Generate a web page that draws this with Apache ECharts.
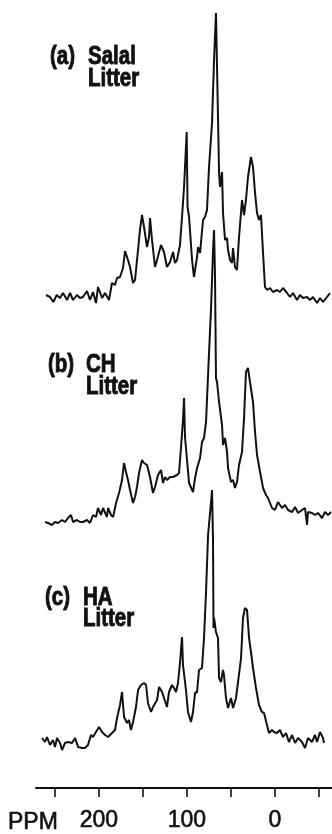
<!DOCTYPE html>
<html>
<head>
<meta charset="utf-8">
<script src="https://cdn.jsdelivr.net/npm/echarts@6/dist/echarts.min.js"></script>
<style>
  html, body { margin: 0; padding: 0; background: #fff; }
  #chart { width: 332px; height: 834px; }
</style>
</head>
<body>
<div id="chart"></div>
<script>
// 13C CPMAS NMR spectra of three litters, chemical shift in ppm (inverted axis)

// (a) Salal litter
const ppmA = [260.1,255.6,251.8,247.9,244.2,240.8,236.2,232.8,229.4,224.9,221.5,218.1,213.5,210.1,206.7,203.3,201.0,196.4,193.0,188.5,185.1,181.7,179.4,176.0,172.6,170.3,166.9,164.6,161.2,158.9,156.7,153.3,151.0,148.7,145.3,143.0,141.9,139.6,136.2,133.9,129.4,126.0,122.6,119.1,115.7,113.5,111.2,107.8,105.5,103.2,100.2,99.2,97.5,94.1,91.9,88.4,87.3,85.0,81.6,79.4,77.1,74.8,71.4,69.1,66.9,65.7,64.6,63.4,62.3,60.0,58.9,56.6,54.3,53.2,50.9,48.7,47.5,45.3,43.0,40.7,37.3,35.0,32.8,30.5,27.1,24.8,22.5,20.2,18.0,15.7,13.4,11.2,8.9,5.5,2.1,-2.5,-5.9,-9.3,-13.9,-17.3,-20.7,-25.2,-28.6,-32.1,-36.6,-40.0,-43.4,-48.0,-51.4,-54.8,-59.3,-62.7];
const intA = [3,1,-4,3,0,5,-2,5,-2,3,0,1,7,-2,6,-5,11,0,5,-2,15,13,20,21,30,47,38,31,15,18,16,68,83,71,51,61,80,58,31,38,53,46,31,36,46,35,38,53,81,111,166,91,81,38,21,41,51,45,78,81,88,131,175,238,285,285,181,125,111,126,85,58,60,48,38,35,50,31,28,61,98,83,98,121,141,131,105,85,78,83,45,11,8,10,6,8,6,10,5,1,5,-2,3,0,1,-2,1,-5,0,-4,1,5];

// (b) CH litter
const ppmB = [261.2,257.8,253.3,249.9,246.5,241.9,238.5,235.1,231.7,229.4,224.9,221.5,218.1,213.5,210.1,206.7,203.3,201.0,197.6,195.3,190.8,189.6,186.2,183.9,180.5,177.1,173.7,171.4,169.2,166.9,164.6,161.2,158.9,156.7,154.4,151.0,148.7,145.3,141.9,138.5,136.2,132.8,129.4,127.1,124.8,122.6,119.1,115.7,111.2,108.9,106.6,104.4,103.2,102.1,99.8,97.5,96.4,93.0,90.7,88.4,85.0,82.8,80.5,78.2,75.9,72.5,70.3,69.1,68.0,66.9,65.7,63.4,60.0,58.9,56.6,54.3,53.2,49.8,47.5,45.3,43.0,40.7,37.3,35.0,32.8,30.5,28.2,24.8,22.5,20.2,16.8,13.4,10.0,7.7,3.2,-0.2,-3.6,-8.2,-11.6,-15.0,-19.6,-23.0,-26.4,-30.9,-34.3,-36.6,-37.7,-42.3,-45.7,-49.1,-53.7,-57.1,-60.5,-63.9];
const intB = [-2,-3,-5,-2,-3,0,-2,2,5,-2,0,-2,-2,0,-3,5,3,12,5,12,3,12,5,3,17,27,40,57,48,40,30,17,23,33,47,60,57,55,43,27,33,45,50,37,43,40,43,43,45,47,73,100,122,83,60,37,35,28,42,52,62,78,82,98,145,212,268,290,245,142,138,118,95,75,82,68,52,38,40,32,38,55,68,102,148,152,138,118,88,65,48,32,25,22,12,10,18,12,15,10,8,13,7,10,12,-5,8,7,5,7,2,8,5,8];

// (c) HA litter
const ppmC = [264.7,261.2,259.0,255.6,252.2,249.9,247.6,244.2,241.9,238.5,235.1,230.5,227.1,223.7,219.2,215.8,212.4,209.0,206.7,203.3,199.9,196.4,193.0,189.6,185.1,181.7,179.4,176.0,173.7,171.4,168.0,165.8,163.5,161.2,157.8,155.5,152.1,148.7,146.4,144.2,140.7,138.5,133.9,131.6,128.2,126.0,122.6,120.3,116.9,114.6,112.3,110.1,107.8,105.5,104.4,101.0,98.7,95.3,93.0,90.7,88.4,86.2,82.8,80.5,78.2,75.9,72.5,71.4,70.3,69.7,69.1,66.9,64.6,63.4,61.2,58.9,57.8,55.5,53.2,49.8,47.5,44.1,41.8,38.4,36.2,33.9,31.6,29.3,27.1,24.8,21.4,18.0,14.6,12.3,8.9,6.6,3.2,0.9,-2.5,-5.9,-9.3,-12.7,-16.1,-19.6,-23.0,-26.4,-30.9,-34.3,-37.7,-42.3,-45.7,-48.0,-51.4,-54.8,-55.9];
const intC = [2,-2,3,-5,0,-7,2,-3,-10,-3,-2,-3,2,-7,-8,-8,-5,5,3,8,13,8,5,3,7,10,22,35,48,23,17,20,10,18,33,50,55,57,55,37,28,33,40,53,48,50,33,48,55,52,48,57,77,103,75,50,28,18,28,47,48,70,72,102,148,205,238,250,202,112,122,108,102,62,58,70,65,42,32,42,32,42,58,82,122,132,130,102,88,72,52,35,28,27,15,7,10,8,7,10,3,7,-2,5,-3,2,-2,-8,2,-2,5,-2,8,2,-3];

// Axis ticks and labels (ppm)
const ppmTicks = [250, 200, 150, 100, 50, 0, -50];
const ppmTickLabels = [200, 100, 0];
const axisTitle = 'PPM';

// Panel captions
const panelTags = ['(a)', '(b)', '(c)'];
const panelNames = ['Salal', 'CH', 'HA'];
const panelSub = 'Litter';

const zip = (xs, ys) => xs.map((x, i) => [x, ys[i]]);

const X_MIN = -65, X_MAX = 271.5;
const ink = '#111';

function hiddenX(gi) {
  return { type: 'value', gridIndex: gi, min: X_MIN, max: X_MAX, inverse: true, show: false };
}
function hiddenY(gi, min, max) {
  return { type: 'value', gridIndex: gi, min: min, max: max, show: false };
}

const chart = echarts.init(document.getElementById('chart'), null, { renderer: 'canvas' });

const captionFont = 'bold 25px "Liberation Sans", Arial, sans-serif';
function caption(x, y, text) {
  return {
    type: 'text', x: x, y: y, scaleX: 0.82, scaleY: 1,
    style: {
      text: text, font: captionFont, fill: ink, stroke: ink, lineWidth: 0.9,
      align: 'left', verticalAlign: 'middle'
    }
  };
}

const capPos = [
  { tx: 50, nx: 88, y1: 57, y2: 79 },
  { tx: 48, nx: 86, y1: 365, y2: 387 },
  { tx: 45, nx: 83, y1: 598, y2: 619 }
];
const graphics = [];
capPos.forEach((p, i) => {
  graphics.push(caption(p.tx, p.y1, panelTags[i]));
  graphics.push(caption(p.nx, p.y1, panelNames[i]));
  graphics.push(caption(p.nx, p.y2, panelSub));
});
graphics.push({
  type: 'text', x: 8, y: 823,
  style: {
    text: axisTitle, font: '23px "Liberation Sans", Arial, sans-serif',
    fill: ink, stroke: ink, lineWidth: 0.6, align: 'left', verticalAlign: 'middle'
  }
});

const lineStyle = { color: ink, width: 2 };

chart.setOption({
  animation: false,
  backgroundColor: '#fff',
  grid: [
    { left: 36, right: 0, top: 8, height: 310 },
    { left: 36, right: 0, top: 220, height: 320 },
    { left: 36, right: 0, top: 480, height: 280 }
  ],
  xAxis: [
    hiddenX(0),
    hiddenX(1),
    {
      type: 'value', gridIndex: 2, min: X_MIN, max: X_MAX, inverse: true,
      position: 'bottom', offset: 28,
      axisLine: { show: true, onZero: false, lineStyle: { color: ink, width: 2 } },
      axisTick: { show: true, inside: false, length: 9, customValues: ppmTicks, lineStyle: { color: ink, width: 1.6 } },
      axisLabel: {
        show: true, customValues: ppmTickLabels, margin: 21,
        fontSize: 23, color: ink, fontFamily: '"Liberation Sans", Arial, sans-serif',
        textBorderColor: ink, textBorderWidth: 0.6
      },
      splitLine: { show: false }
    }
  ],
  yAxis: [
    hiddenY(0, -20, 290),
    hiddenY(1, -20, 300),
    hiddenY(2, -20, 260)
  ],
  series: [
    { type: 'line', xAxisIndex: 0, yAxisIndex: 0, data: zip(ppmA, intA), showSymbol: false, symbol: 'none', lineStyle: lineStyle, clip: false },
    { type: 'line', xAxisIndex: 1, yAxisIndex: 1, data: zip(ppmB, intB), showSymbol: false, symbol: 'none', lineStyle: lineStyle, clip: false },
    { type: 'line', xAxisIndex: 2, yAxisIndex: 2, data: zip(ppmC, intC), showSymbol: false, symbol: 'none', lineStyle: lineStyle, clip: false }
  ],
  graphic: graphics
});
</script>
</body>
</html>
